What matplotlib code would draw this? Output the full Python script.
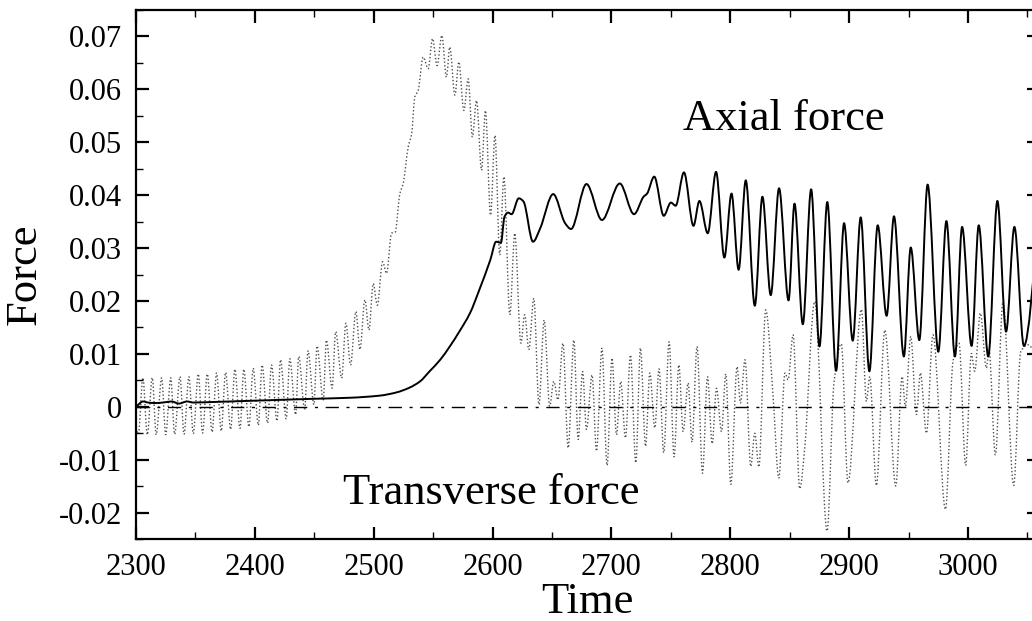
import numpy as np
import matplotlib
matplotlib.use('Agg')
import matplotlib.pyplot as plt
from matplotlib.path import Path
from matplotlib.patches import PathPatch
from matplotlib.ticker import MultipleLocator, FuncFormatter

plt.rcParams['font.family'] = ['Liberation Serif', 'DejaVu Serif']
plt.rcParams['axes.unicode_minus'] = False

# axial force (solid line)
axial_t = [2300, 2306, 2310, 2316, 2323, 2330, 2336, 2343, 2348, 2365, 2393, 2421,
           2449, 2480, 2505, 2519, 2530, 2539, 2547, 2556, 2564, 2572, 2581, 2589,
           2598, 2603, 2607, 2610, 2613, 2616, 2622, 2626, 2634, 2640, 2651, 2661,
           2666, 2679, 2692, 2707, 2719, 2727, 2730, 2736, 2744, 2750, 2754, 2761,
           2769, 2774, 2781, 2788, 2795, 2801, 2807, 2813, 2820.6, 2827, 2834, 2841,
           2849, 2854, 2861, 2868, 2875, 2881.6, 2889, 2895.7, 2903, 2909.7, 2917, 2924,
           2931.5, 2937.7, 2946, 2951.8, 2959, 2966, 2975, 2981.8, 2989, 2995, 3003, 3009,
           3017, 3024.7, 3032, 3039, 3047, 3059]
axial_f = [0.0, 0.0010, 0.0008, 0.0007, 0.0008, 0.0010, 0.0006, 0.0010, 0.0008, 0.0009, 0.0011, 0.0013,
           0.0015, 0.0017, 0.0021, 0.0027, 0.0036, 0.0048, 0.0067, 0.0089, 0.0114, 0.0142, 0.0177, 0.0222,
           0.0277, 0.0312, 0.0310, 0.0359, 0.0367, 0.0364, 0.0394, 0.0388, 0.0312, 0.0337, 0.0402, 0.0347,
           0.0336, 0.0421, 0.0353, 0.0422, 0.0364, 0.0397, 0.0403, 0.0435, 0.0361, 0.0386, 0.0380, 0.0443,
           0.0342, 0.0389, 0.0328, 0.0444, 0.0282, 0.0403, 0.0259, 0.0428, 0.0191, 0.0397, 0.0211, 0.0413,
           0.0201, 0.0384, 0.0156, 0.0411, 0.0114, 0.0387, 0.0068, 0.0347, 0.0125, 0.0358, 0.0067, 0.0343,
           0.0172, 0.0360, 0.0095, 0.0301, 0.0126, 0.0420, 0.0104, 0.0351, 0.0095, 0.0340, 0.0115, 0.0343,
           0.0095, 0.0389, 0.0142, 0.0340, 0.0115, 0.0330]

# transverse force (dotted line)
trans_t = [2300, 2302, 2305.8, 2309.5, 2313.7, 2317, 2321.6, 2325, 2329.2, 2332.5, 2337, 2340.4,
           2344.5, 2348.2, 2352.4, 2356, 2360, 2364, 2367.8, 2371.7, 2375.4, 2379.6, 2383.2, 2387.5,
           2390.7, 2395, 2398.6, 2402.9, 2406.1, 2410.7, 2414, 2418.6, 2421.6, 2426.4, 2429.4, 2434.3,
           2436.9, 2441.9, 2444.7, 2449.7, 2452.3, 2457.5, 2460.2, 2465, 2468, 2473, 2476.6, 2480.5,
           2485, 2488.4, 2492.6, 2496, 2499.6, 2503, 2507.5, 2510.8, 2515, 2518, 2522, 2524.8,
           2529, 2531.9, 2534.6, 2537.4, 2541.6, 2545.8, 2549.5, 2553.3, 2557.3, 2561.2, 2564, 2568.3,
           2571.6, 2575.8, 2579.5, 2583, 2586.5, 2590.7, 2594, 2598.3, 2602, 2606, 2609.5, 2614.5,
           2618.7, 2623.8, 2627, 2630.5, 2634.7, 2639, 2643.4, 2648, 2651.5, 2655, 2659.2, 2663.6,
           2668.4, 2672, 2675.7, 2679, 2683.7, 2687.4, 2692, 2696.3, 2700.5, 2704.2, 2707.8, 2711.8,
           2716, 2720.5, 2724.4, 2728.7, 2732.3, 2736.5, 2740, 2744, 2748.5, 2752.7, 2756.7, 2760.3,
           2764.5, 2767.8, 2772, 2776.6, 2780.8, 2784.7, 2788.4, 2792.6, 2796.2, 2800.4, 2805.7, 2808.5,
           2812.4, 2817.2, 2820.6, 2824, 2829.8, 2836, 2840.8, 2846, 2848.6, 2852.8, 2858.4, 2862.6,
           2871, 2881.4, 2887.2, 2893.4, 2899, 2910.3, 2914.5, 2917.3, 2922.9, 2930, 2939.2, 2944.5,
           2947.3, 2951.8, 2956.6, 2959.9, 2965, 2970.5, 2981, 2987.3, 2992.4, 2998, 3002.8, 3005.6,
           3010.4, 3015.4, 3017.6, 3023, 3029.4, 3038.4, 3044.3, 3050.5, 3059]
trans_f = [-0.0040, -0.0052, 0.0055, -0.0053, 0.0055, -0.0053, 0.0055, -0.0053, 0.0055, -0.0052, 0.0057, -0.0052,
           0.0057, -0.0051, 0.0062, -0.0050, 0.0062, -0.0048, 0.0064, -0.0046, 0.0065, -0.0043, 0.0071, -0.0041,
           0.0071, -0.0038, 0.0073, -0.0035, 0.0079, -0.0031, 0.0079, -0.0027, 0.0089, -0.0023, 0.0091, -0.0015,
           0.0095, -0.0006, 0.0106, 0.0004, 0.0115, 0.0012, 0.0126, 0.0035, 0.0142, 0.0054, 0.0158, 0.0079,
           0.0180, 0.0108, 0.0202, 0.0145, 0.0233, 0.0192, 0.0274, 0.0252, 0.0328, 0.0330, 0.0403, 0.0422,
           0.0491, 0.0516, 0.0586, 0.0598, 0.0661, 0.0639, 0.0696, 0.0645, 0.0702, 0.0623, 0.0680, 0.0589,
           0.0652, 0.0560, 0.0620, 0.0510, 0.0579, 0.0447, 0.0560, 0.0362, 0.0513, 0.0287, 0.0435, 0.0174,
           0.0328, 0.0120, 0.0174, 0.0108, 0.0205, 0.0004, 0.0164, 0.0001, 0.0048, 0.0013, 0.0120, -0.0078,
           0.0126, -0.0062, 0.0067, -0.0043, 0.0060, -0.0084, 0.0111, -0.0111, 0.0092, -0.0053, 0.0048, -0.0059,
           0.0098, -0.0106, 0.0111, -0.0075, 0.0064, -0.0040, 0.0072, -0.0087, 0.0123, -0.0095, 0.0079, -0.0047,
           0.0045, -0.0067, 0.0114, -0.0126, 0.0057, -0.0070, 0.0035, -0.0047, 0.0062, -0.0147, 0.0076, 0.0007,
           0.0089, -0.0113, -0.0050, -0.0114, 0.0183, 0.0019, -0.0135, 0.0064, 0.0051, 0.0136, -0.0155, -0.0078,
           0.0199, -0.0235, 0.0045, 0.0119, -0.0144, 0.0184, 0.0010, 0.0057, -0.0149, 0.0145, -0.0150, 0.0057,
           0.0001, 0.0133, -0.0015, 0.0064, -0.0050, 0.0136, -0.0194, 0.0085, 0.0120, -0.0111, 0.0101, 0.0067,
           0.0177, 0.0073, 0.0108, -0.0091, 0.0199, -0.0149, 0.0104, 0.0117, 0.0090]


def smooth_path(t, f):
    # cubic bezier through the points, flat at the peaks and troughs
    t = np.asarray(t, float)
    f = np.asarray(f, float)
    d = np.diff(f) / np.diff(t)
    m = np.empty(len(t))
    m[0], m[-1] = d[0], d[-1]
    for i in range(1, len(t) - 1):
        if d[i - 1] * d[i] <= 0:
            m[i] = 0.0
        else:
            m[i] = 2.0 / (1.0 / d[i - 1] + 1.0 / d[i])
    verts = [(t[0], f[0])]
    codes = [Path.MOVETO]
    for i in range(len(t) - 1):
        h = (t[i + 1] - t[i]) / 3.0
        verts += [(t[i] + h, f[i] + m[i] * h),
                  (t[i + 1] - h, f[i + 1] - m[i + 1] * h),
                  (t[i + 1], f[i + 1])]
        codes += [Path.CURVE4] * 3
    return Path(verts, codes)


fig = plt.figure(figsize=(10.32, 6.21), dpi=100)
ax = fig.add_axes([136 / 1032, 1 - 539 / 621, (1039 - 136) / 1032, (539 - 10) / 621])

ax.axhline(0, color='black', lw=1.0, dashes=(9.5, 5.5, 2.2, 5.5))
ax.add_patch(PathPatch(smooth_path(trans_t, trans_f), fill=False, ec='0.3',
                       lw=1.0, linestyle=(0, (1, 1.6))))
ax.add_patch(PathPatch(smooth_path(axial_t, axial_f), fill=False, ec='black',
                       lw=1.4, joinstyle='round'))

ax.set_xlim(2300, 3059.7)
ax.set_ylim(-0.025, 0.075)

ax.xaxis.set_major_locator(MultipleLocator(100))
ax.xaxis.set_minor_locator(MultipleLocator(50))
ax.yaxis.set_major_locator(MultipleLocator(0.01))
ax.yaxis.set_minor_locator(MultipleLocator(0.005))
ax.yaxis.set_major_formatter(FuncFormatter(lambda v, p: '%g' % round(v, 3)))

ax.tick_params(which='both', direction='in', top=True, right=True, labelsize=22, pad=10)
ax.tick_params(which='major', length=9, width=1.6)
ax.tick_params(which='minor', length=5, width=1.0)
for s in ax.spines.values():
    s.set_linewidth(1.6)

ax.text(2760, 0.0523, 'Axial force', fontsize=32, ha='left', va='baseline')
ax.text(2474, -0.0183, 'Transverse force', fontsize=32, ha='left', va='baseline')

ax.set_xlabel('Time', fontsize=32, labelpad=0)
ax.set_ylabel('Force', fontsize=32, labelpad=10)

fig.savefig('out.png', dpi=100)
